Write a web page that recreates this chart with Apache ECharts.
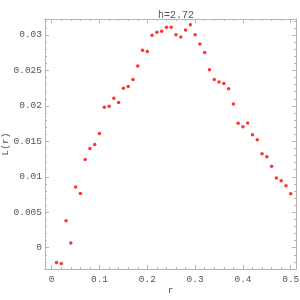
<!DOCTYPE html>
<html><head><meta charset="utf-8">
<script src="https://cdn.jsdelivr.net/npm/echarts@6/dist/echarts.min.js"></script>
<style>html,body{margin:0;padding:0;background:#fff}#c{width:300px;height:300px}</style>
</head><body><div id="c"></div>
<script>
var rValues = [0.01,0.02,0.03,0.04,0.05,0.06,0.07,0.08,0.09,0.10,
  0.11,0.12,0.13,0.14,0.15,0.16,0.17,0.18,0.19,0.20,
  0.21,0.22,0.23,0.24,0.25,0.26,0.27,0.28,0.29,0.30,
  0.31,0.32,0.33,0.34,0.35,0.36,0.37,0.38,0.39,0.40,
  0.41,0.42,0.43,0.44,0.45,0.46,0.47,0.48,0.49,0.50];
var lValues = [-0.00207,-0.00221,0.0038,0.00066,0.00855,0.00765,0.01244,0.0140,0.01455,0.0161,
  0.0198,0.01996,0.02108,0.02047,0.02249,0.02272,0.02371,0.02563,0.02784,0.02765,
  0.02995,0.03037,0.03051,0.03108,0.03108,0.03004,0.02972,0.0307,0.03145,0.03004,
  0.02873,0.02751,0.02511,0.02371,0.02338,0.02314,0.0224,0.02028,0.01756,0.01704,
  0.0176,0.01592,0.01521,0.01324,0.01282,0.0115,0.00982,0.00944,0.00873,0.00761];
var xTicks = [0,0.1,0.2,0.3,0.4,0.5];
var yTicks = [0,0.005,0.01,0.015,0.02,0.025,0.03];
var xMinor = [0.02,0.04,0.06,0.08,0.12,0.14,0.16,0.18,0.22,0.24,0.26,0.28,0.32,0.34,0.36,0.38,0.42,0.44,0.46,0.48];
var yMinor = [-0.002,-0.001,0.001,0.002,0.003,0.004,0.006,0.007,0.008,0.009,0.011,0.012,0.013,0.014,0.016,0.017,0.018,0.019,0.021,0.022,0.023,0.024,0.026,0.027,0.028,0.029,0.031,0.032];
var titleText = 'h=2.72';
var xName = 'r', yName = 'L(r)';

var FONT = 'Liberation Mono';
var TXT = '#555';
var LINE = '#b4b4b4';
var xr = [-0.014, 0.511], yr = [-0.003, 0.03225];

function axis(kind, pos, ticks, len, labels, extra) {
  var a = {
    type: 'value', position: pos, min: kind === 'x' ? xr[0] : yr[0], max: kind === 'x' ? xr[1] : yr[1],
    splitLine: {show: false},
    axisLine: {show: true, onZero: false, lineStyle: {color: LINE, width: 1}},
    axisTick: {show: true, inside: true, length: len, customValues: ticks, lineStyle: {color: LINE, width: 1}},
    axisLabel: labels ? {show: true, customValues: ticks, fontFamily: FONT, fontSize: 9.5, color: TXT,
      margin: kind === 'x' ? 5 : 3,
      formatter: function (v) { return String(+v.toFixed(4)); }} : {show: false}
  };
  for (var k in extra) a[k] = extra[k];
  return a;
}

var chart = echarts.init(document.getElementById('c'), null, {renderer: 'canvas'});
chart.setOption({
  animation: false,
  backgroundColor: '#fff',
  title: {text: titleText, left: 171, top: 5, textAlign: 'center',
    textStyle: {fontFamily: FONT, fontSize: 10, fontWeight: 'normal', color: TXT}},
  grid: {left: 45, right: 4, top: 19, bottom: 31, containLabel: false, outerBoundsMode: 'none'},
  xAxis: [
    axis('x', 'bottom', xTicks, 4, true, {name: xName, nameLocation: 'middle', nameGap: 16, nameMoveOverlap: false,
      nameTextStyle: {fontFamily: FONT, fontSize: 9.5, color: TXT}}),
    axis('x', 'bottom', xMinor, 2, false, {}),
    axis('x', 'top', xTicks, 4, false, {}),
    axis('x', 'top', xMinor, 2, false, {})
  ],
  yAxis: [
    axis('y', 'left', yTicks, 4, true, {name: yName, nameLocation: 'middle', nameGap: 35, nameMoveOverlap: false,
      nameTextStyle: {fontFamily: FONT, fontSize: 9.5, color: TXT}}),
    axis('y', 'left', yMinor, 2, false, {}),
    axis('y', 'right', yTicks, 4, false, {}),
    axis('y', 'right', yMinor, 2, false, {})
  ],
  series: [{
    type: 'scatter', xAxisIndex: 0, yAxisIndex: 0,
    data: rValues.map(function (r, i) { return [r, lValues[i]]; }),
    symbol: 'circle', symbolSize: 3.5,
    itemStyle: {color: '#ff0000'}
  }]
});
</script></body></html>
